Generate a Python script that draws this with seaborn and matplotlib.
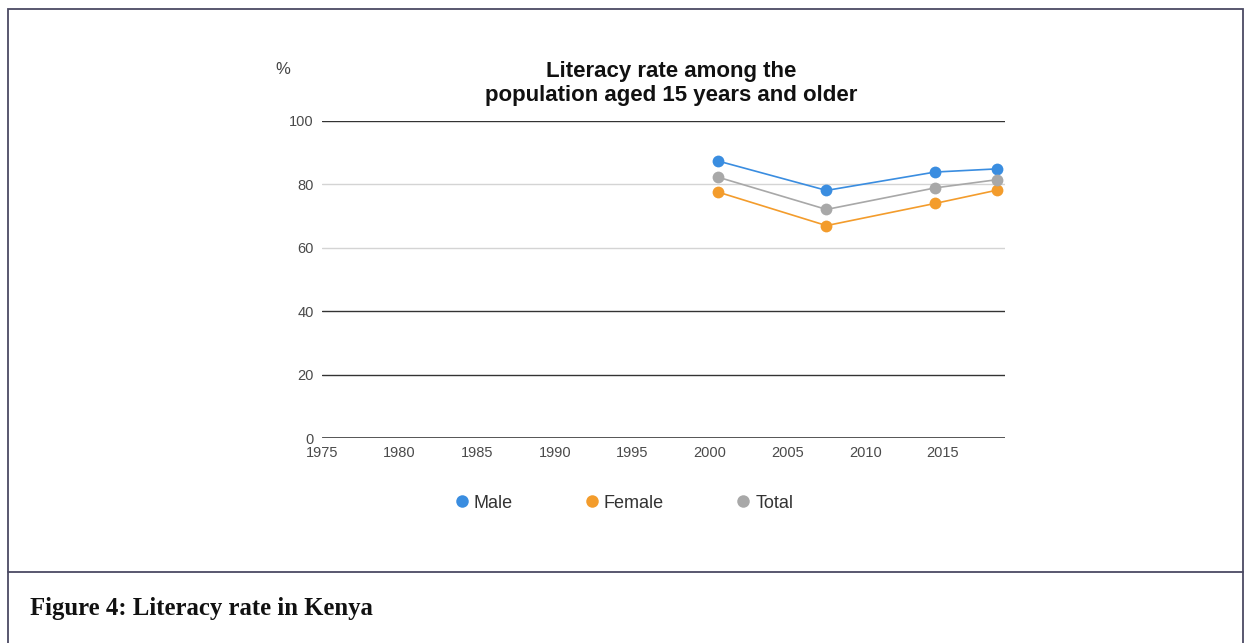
import matplotlib
matplotlib.use("Agg")
import matplotlib.pyplot as plt
from matplotlib.lines import Line2D
from matplotlib.patches import Rectangle
import seaborn as sns
import pandas as pd

sns.set_style("white")
plt.rcParams['font.family'] = ['Liberation Sans', 'DejaVu Sans']

years = [2000.5, 2007.5, 2014.5, 2018.5]
male = [87.4, 78.1, 83.9, 84.9]
female = [77.6, 67.0, 74.0, 78.2]
total = [82.3, 72.1, 78.9, 81.5]
series_names = ["Male", "Female", "Total"]
colors = ["#3a8de0", "#f39c2c", "#a8a8a8"]
x_ticks = [1975, 1980, 1985, 1990, 1995, 2000, 2005, 2010, 2015]
y_ticks = [0, 20, 40, 60, 80, 100]
title_lines = ["Literacy rate among the", "population aged 15 years and older"]

df = pd.DataFrame({
    "year": years * 3,
    "value": male + female + total,
    "series": [s for s in series_names for _ in years],
})

W, H = 1246, 643
fig = plt.figure(figsize=(W / 100, H / 100), dpi=100)

# outer frame
fig.add_artist(Rectangle((8 / W, -0.01), (1243 - 8) / W, 1 - 9 / H + 0.01,
                         transform=fig.transFigure, fill=False,
                         edgecolor="#4b4a63", linewidth=1.3))
fig.add_artist(Line2D([8 / W, 1243 / W], [1 - 572 / H, 1 - 572 / H],
                      transform=fig.transFigure, color="#4b4a63", linewidth=1.3))

ax = fig.add_axes([322 / W, 1 - 438 / H, (1005 - 322) / W, (438 - 121) / H])
sns.lineplot(data=df, x="year", y="value", hue="series", hue_order=series_names,
             palette=colors, marker="o", markersize=8.5, markeredgewidth=0,
             linewidth=1.2, ax=ax, legend=False, zorder=3)

ax.set_xlim(1975, 2019)
ax.set_ylim(0, 100)
ax.set_xticks(x_ticks)
ax.set_yticks(y_ticks)
ax.set_xlabel("")
ax.set_ylabel("")
for s in ax.spines.values():
    s.set_visible(False)

grid_styles = {0: ("#222222", 1.8), 20: ("#333333", 1.0), 40: ("#333333", 1.0),
               60: ("#d4d4d4", 1.0), 80: ("#d4d4d4", 1.0), 100: ("#333333", 1.0)}
for v in y_ticks:
    c, lw = grid_styles[v]
    ax.axhline(v, color=c, linewidth=lw, zorder=1)

ax.tick_params(axis="both", length=0, labelsize=10.5, labelcolor="#4a4a4a")
ax.tick_params(axis="y", pad=6)
ax.tick_params(axis="x", pad=6)

fig.text(283 / W, 1 - 70 / H, "%", fontsize=12, color="#444444",
         ha="center", va="center")
for yy, line in zip([72, 95], title_lines):
    fig.text(671 / W, 1 - yy / H, line, fontsize=16, fontweight="bold",
             ha="center", va="center", color="#111111")

handles = [Line2D([], [], marker="o", linestyle="none", markersize=9,
                  markerfacecolor=c, markeredgewidth=0) for c in colors]
fig.legend(handles, series_names, loc="center", bbox_to_anchor=(623 / W, 1 - 503 / H),
           ncol=3, frameon=False, fontsize=13, handletextpad=0.15,
           columnspacing=3.9, handlelength=1.0, labelcolor="#333333")

fig.text(30 / W, 1 - 609 / H, "Figure 4: Literacy rate in Kenya",
         fontsize=17.8, fontweight="bold", family=["Liberation Serif", "DejaVu Serif"],
         ha="left", va="center", color="#111111")

fig.savefig("out.png", dpi=100, facecolor="white")
